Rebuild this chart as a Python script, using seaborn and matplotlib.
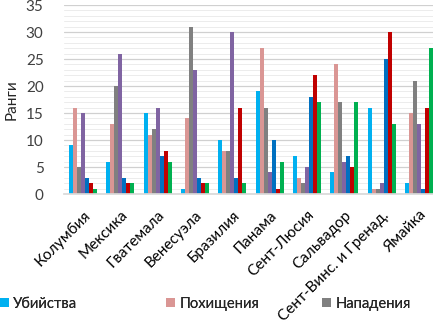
import matplotlib
matplotlib.use("Agg")
import matplotlib.pyplot as plt
import seaborn as sns
import pandas as pd
from matplotlib.ticker import MultipleLocator
from matplotlib.patches import Patch

countries = ["Колумбия", "Мексика", "Гватемала", "Венесуэла", "Бразилия",
             "Панама", "Сент-Люсия", "Сальвадор", "Сент-Винс. и Гренад.", "Ямайка"]
series_names = ["Убийства", "Похищения", "Нападения", "Грабежи", "Кражи", "Угоны", "Наркотики"]
ubiystva   = [9, 6, 15, 1, 10, 19, 7, 4, 16, 2]
pokhishch  = [16, 13, 11, 14, 8, 27, 3, 24, 1, 15]
napadeniya = [5, 20, 12, 31, 8, 16, 2, 17, 1, 21]
grabezhi   = [15, 26, 16, 23, 30, 4, 5, 6, 2, 13]
krazhi     = [3, 3, 7, 3, 3, 10, 18, 7, 25, 1]
ugony      = [2, 2, 8, 2, 16, 1, 22, 5, 30, 16]
narkotiki  = [1, 2, 6, 2, 2, 6, 17, 17, 13, 27]
all_series = [ubiystva, pokhishch, napadeniya, grabezhi, krazhi, ugony, narkotiki]
colors = ["#00B0F0", "#DA9694", "#808080", "#8064A2", "#0070C0", "#C00000", "#00B050"]

rows = []
for name, vals in zip(series_names, all_series):
    for c, v in zip(countries, vals):
        rows.append({"Страна": c, "Показатель": name, "Ранг": v})
df = pd.DataFrame(rows)

sns.set_theme(style="white")
plt.rcParams["font.family"] = ["Lato", "DejaVu Sans"]

fig = plt.figure(figsize=(4.33, 3.34), dpi=100)
ax = fig.add_axes([0.1487, 0.419, 0.862, 0.566])
sns.barplot(data=df, x="Страна", y="Ранг", hue="Показатель", palette=colors,
            width=0.75, ax=ax, legend=False, saturation=1, linewidth=0)

ax.set_ylim(0, 35)
ax.yaxis.set_major_locator(MultipleLocator(5))
ax.yaxis.set_minor_locator(MultipleLocator(1))
ax.grid(which="major", axis="y", color="#D0D0D0", linewidth=0.9)
ax.grid(which="minor", axis="y", color="#ECECEC", linewidth=0.7)
ax.set_axisbelow(True)
for s in ["top", "right", "left"]:
    ax.spines[s].set_visible(False)
ax.spines["bottom"].set_color("#D9D9D9")
ax.tick_params(axis="y", labelsize=11, length=0, pad=15, colors="#404040")
ax.tick_params(axis="x", labelsize=11, length=0, pad=10, colors="#000000")
ax.set_xlabel("")
ax.set_ylabel("")
fig.text(12 / 433, 1 - 100 / 334, "Ранги", rotation=90, ha="center", va="center", fontsize=11)
for lab in ax.get_xticklabels():
    lab.set_rotation(45)
    lab.set_ha("right")
    lab.set_rotation_mode("anchor")

leg_x = [0, 166, 322]
for i in range(3):
    leg = fig.legend([Patch(facecolor=colors[i], edgecolor="none")], [series_names[i]],
                     loc="center left", bbox_to_anchor=(leg_x[i] / 433, 1 - 304 / 334),
                     frameon=False, fontsize=10.6, handlelength=0.6, handleheight=0.6,
                     handletextpad=0.3, borderpad=0, borderaxespad=0)
    fig.add_artist(leg)

fig.savefig("out.png", dpi=100)
